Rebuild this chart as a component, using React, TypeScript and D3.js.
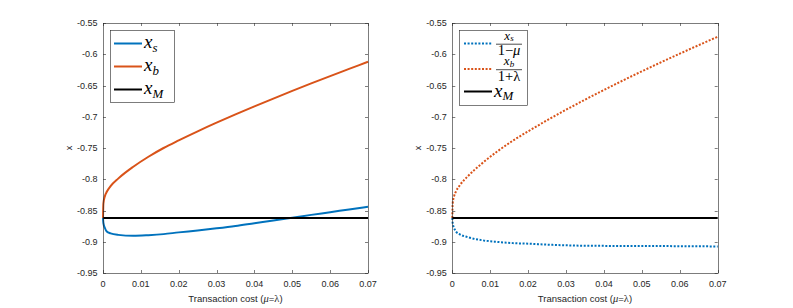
import React, { useEffect, useRef } from "react";
import * as d3 from "d3";

// transaction cost grid (mu = lambda)
const costs = [0, 0.0001, 0.0005, 0.001, 0.002, 0.004, 0.008, 0.012, 0.016, 0.02, 0.025, 0.03, 0.035, 0.04, 0.045, 0.05, 0.055, 0.06, 0.065, 0.07];

// left panel
const xsValues = [-0.862, -0.870, -0.878, -0.8835, -0.8865, -0.889, -0.8905, -0.8895, -0.8878, -0.885, -0.882, -0.8785, -0.8747, -0.8703, -0.866, -0.8615, -0.857, -0.8527, -0.8483, -0.844];
const xbValues = [-0.862, -0.839, -0.827, -0.820, -0.811, -0.799, -0.780, -0.764, -0.750, -0.7378, -0.7233, -0.7095, -0.6962, -0.6834, -0.6709, -0.6587, -0.6467, -0.635, -0.6235, -0.612];
// right panel (scaled)
const xsScaled = [-0.862, -0.870, -0.8784, -0.8839, -0.8883, -0.8926, -0.8977, -0.9003, -0.9022, -0.9031, -0.9046, -0.9057, -0.9064, -0.9066, -0.9068, -0.9068, -0.9069, -0.9071, -0.9073, -0.9075];
const xbScaled = [-0.862, -0.8389, -0.8266, -0.8192, -0.8094, -0.7958, -0.7738, -0.7549, -0.7382, -0.7233, -0.7057, -0.6888, -0.6727, -0.6571, -0.642, -0.6273, -0.613, -0.5991, -0.5854, -0.572];
const xM = -0.862;

const xTicks = [0, 0.01, 0.02, 0.03, 0.04, 0.05, 0.06, 0.07];
const yTicks = [-0.95, -0.9, -0.85, -0.8, -0.75, -0.7, -0.65, -0.6, -0.55];

const BLUE = "#0072BD";
const ORANGE = "#D95319";
const AXIS = "#262626";
const MATH = "'Liberation Serif', 'DejaVu Serif', serif";
const SANS = "'Liberation Sans', Arial, sans-serif";

export default function App() {
  const ref = useRef<SVGSVGElement>(null);

  useEffect(() => {
    const svg = d3.select(ref.current);
    svg.selectAll("*").remove();

    const top = 23, bottom = 273;
    const y = d3.scaleLinear().domain([-0.95, -0.55]).range([bottom, top]);

    const panel = (left: number, right: number, series: { vals: number[]; color: string; dotted: boolean }[]) => {
      const x = d3.scaleLinear().domain([0, 0.07]).range([left, right]);
      const g = svg.append("g");

      const line = d3.line<number>()
        .x((d, i) => x(costs[i]))
        .y(d => y(d))
        .curve(d3.curveMonotoneX);

      series.forEach(s => {
        g.append("path")
          .attr("d", line(s.vals))
          .attr("fill", "none")
          .attr("stroke", s.color)
          .attr("stroke-width", 2)
          .attr("stroke-dasharray", s.dotted ? "2 1.6" : null);
      });

      g.append("line")
        .attr("x1", x(0)).attr("x2", x(0.07))
        .attr("y1", y(xM)).attr("y2", y(xM))
        .attr("stroke", "#000").attr("stroke-width", 2.2);

      // box
      g.append("rect")
        .attr("x", Math.round(left) + 0.5).attr("y", top + 0.5)
        .attr("width", Math.round(right) - Math.round(left)).attr("height", bottom - top)
        .attr("fill", "none").attr("stroke", AXIS).attr("stroke-width", 0.6);

      // ticks
      xTicks.forEach(t => {
        const px = Math.round(x(t)) + 0.5;
        g.append("line").attr("x1", px).attr("x2", px).attr("y1", bottom).attr("y2", bottom - 3)
          .attr("stroke", AXIS).attr("stroke-width", 0.6);
        g.append("line").attr("x1", px).attr("x2", px).attr("y1", top).attr("y2", top + 3)
          .attr("stroke", AXIS).attr("stroke-width", 0.6);
        g.append("text").attr("x", x(t)).attr("y", 286.5)
          .attr("text-anchor", "middle").attr("font-family", SANS).attr("font-size", 9)
          .attr("fill", AXIS).text(String(t));
      });
      yTicks.forEach(t => {
        const py = Math.round(y(t)) + 0.5;
        g.append("line").attr("x1", left).attr("x2", left + 3).attr("y1", py).attr("y2", py)
          .attr("stroke", AXIS).attr("stroke-width", 0.6);
        g.append("line").attr("x1", right).attr("x2", right - 3).attr("y1", py).attr("y2", py)
          .attr("stroke", AXIS).attr("stroke-width", 0.6);
        g.append("text").attr("x", left - 5.5).attr("y", y(t) + 3.2)
          .attr("text-anchor", "end").attr("font-family", SANS).attr("font-size", 9)
          .attr("fill", AXIS).text(String(t));
      });

      // axis labels
      const title = g.append("text").attr("x", (left + right) / 2).attr("y", 301.5)
        .attr("text-anchor", "middle").attr("font-family", SANS).attr("font-size", 9.5).attr("fill", AXIS);
      title.append("tspan").text("Transaction cost (");
      title.append("tspan").attr("font-family", MATH).attr("font-style", "italic").attr("font-size", 10.5).text("μ");
      title.append("tspan").text("=");
      title.append("tspan").attr("font-family", MATH).attr("font-size", 10.5).text("λ");
      title.append("tspan").text(")");

      g.append("text").attr("transform", `translate(${left - 31},148) rotate(-90)`)
        .attr("text-anchor", "middle").attr("font-family", SANS).attr("font-size", 9)
        .attr("fill", AXIS).text("x");

      return g;
    };

    const mathX = (g: any, px: number, py: number, sub: string, size = 19) => {
      const t = g.append("text").attr("x", px).attr("y", py).attr("font-family", MATH)
        .attr("font-style", "italic").attr("font-size", size).attr("fill", "#000");
      t.append("tspan").text("x");
      t.append("tspan").attr("font-size", size * 0.68).attr("dy", size * 0.2).text(sub);
    };

    // left panel
    const gl = panel(103, 368, [
      { vals: xsValues, color: BLUE, dotted: false },
      { vals: xbValues, color: ORANGE, dotted: false },
    ]);
    gl.append("rect").attr("x", 110.5).attr("y", 30.5).attr("width", 64).attr("height", 72)
      .attr("fill", "#fff").attr("stroke", AXIS).attr("stroke-width", 0.6);
    [[BLUE, 43.5, "s"], [ORANGE, 66.5, "b"], ["#000", 89.5, "M"]].forEach(([c, ly, sub]) => {
      gl.append("line").attr("x1", 114).attr("x2", 142).attr("y1", ly).attr("y2", ly)
        .attr("stroke", c as string).attr("stroke-width", 2);
      mathX(gl, 144, (ly as number) + 4.5, sub as string);
    });

    // right panel
    const gr = panel(452.3, 717.7, [
      { vals: xsScaled, color: BLUE, dotted: true },
      { vals: xbScaled, color: ORANGE, dotted: true },
    ]);
    gr.append("rect").attr("x", 459.5).attr("y", 30.5).attr("width", 68).attr("height", 75)
      .attr("fill", "#fff").attr("stroke", AXIS).attr("stroke-width", 0.6);
    const frac = (ly: number, color: string, sub: string, den: string) => {
      gr.append("line").attr("x1", 464).attr("x2", 492).attr("y1", ly).attr("y2", ly)
        .attr("stroke", color).attr("stroke-width", 2).attr("stroke-dasharray", "2 1.6");
      const cx = 509;
      const num = gr.append("text").attr("x", cx).attr("y", ly - 4).attr("text-anchor", "middle")
        .attr("font-family", MATH).attr("font-style", "italic").attr("font-size", 13);
      num.append("tspan").text("x");
      num.append("tspan").attr("font-size", 9).attr("dy", 1.5).text(sub);
      gr.append("line").attr("x1", 496).attr("x2", 522).attr("y1", ly + 0.7).attr("y2", ly + 0.7)
        .attr("stroke", "#000").attr("stroke-width", 0.7);
      const d = gr.append("text").attr("x", cx).attr("y", ly + 11.5).attr("text-anchor", "middle")
        .attr("font-family", MATH).attr("font-size", 14.5);
      d.append("tspan").text("1" + den[0]);
      d.append("tspan").attr("font-style", den[1] === "μ" ? "italic" : "normal").text(den[1]);
    };
    frac(43.5, BLUE, "s", "−μ");
    frac(69, ORANGE, "b", "+λ");
    gr.append("line").attr("x1", 464).attr("x2", 492).attr("y1", 91.5).attr("y2", 91.5)
      .attr("stroke", "#000").attr("stroke-width", 2);
    mathX(gr, 494, 96.5, "M");
  }, []);

  return (
    <svg ref={ref} width={793} height={308}
      style={{ position: "absolute", left: 0, top: 0, background: "#fff" }} />
  );
}
